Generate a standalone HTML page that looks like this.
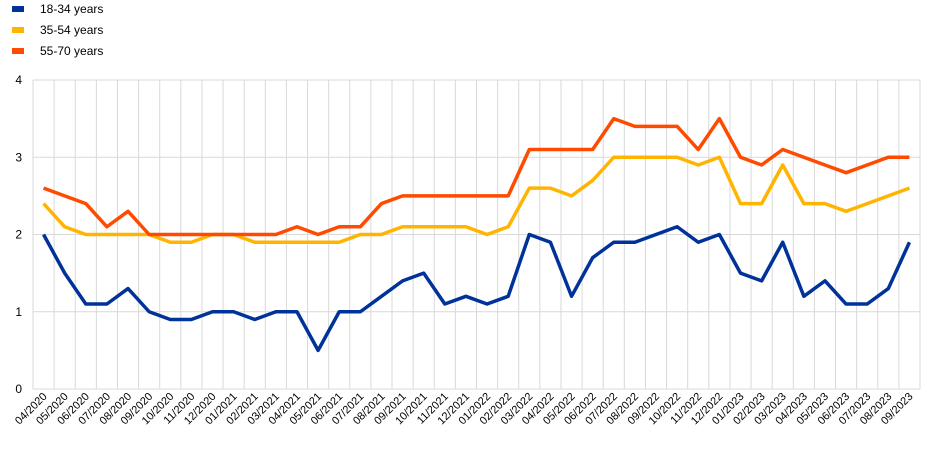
<!DOCTYPE html>
<html><head><meta charset="utf-8"><style>
body{margin:0;background:#fff;font-family:"Liberation Sans",Arial,sans-serif}
svg text{font-family:"Liberation Sans",Arial,sans-serif;fill:#000}
</style></head><body>
<svg width="945" height="445" id="c"></svg>
<script>
const categories=["04/2020","05/2020","06/2020","07/2020","08/2020","09/2020","10/2020","11/2020","12/2020","01/2021","02/2021","03/2021","04/2021","05/2021","06/2021","07/2021","08/2021","09/2021","10/2021","11/2021","12/2021","01/2022","02/2022","03/2022","04/2022","05/2022","06/2022","07/2022","08/2022","09/2022","10/2022","11/2022","12/2022","01/2023","02/2023","03/2023","04/2023","05/2023","06/2023","07/2023","08/2023","09/2023"];
const young=[2.0,1.5,1.1,1.1,1.3,1.0,0.9,0.9,1.0,1.0,0.9,1.0,1.0,0.5,1.0,1.0,1.2,1.4,1.5,1.1,1.2,1.1,1.2,2.0,1.9,1.2,1.7,1.9,1.9,2.0,2.1,1.9,2.0,1.5,1.4,1.9,1.2,1.4,1.1,1.1,1.3,1.9];
const middle=[2.4,2.1,2.0,2.0,2.0,2.0,1.9,1.9,2.0,2.0,1.9,1.9,1.9,1.9,1.9,2.0,2.0,2.1,2.1,2.1,2.1,2.0,2.1,2.6,2.6,2.5,2.7,3.0,3.0,3.0,3.0,2.9,3.0,2.4,2.4,2.9,2.4,2.4,2.3,2.4,2.5,2.6];
const older=[2.6,2.5,2.4,2.1,2.3,2.0,2.0,2.0,2.0,2.0,2.0,2.0,2.1,2.0,2.1,2.1,2.4,2.5,2.5,2.5,2.5,2.5,2.5,3.1,3.1,3.1,3.1,3.5,3.4,3.4,3.4,3.1,3.5,3.0,2.9,3.1,3.0,2.9,2.8,2.9,3.0,3.0];
const yTicks=[0,1,2,3,4];
const seriesNames=["18-34 years","35-54 years","55-70 years"];
const colors=["#003299","#FFB400","#FF4B00"];
const NS="http://www.w3.org/2000/svg";
const svg=document.getElementById('c');
const L=33,R=920,T=80,B=389;
const bw=(R-L)/categories.length;
const x=i=>L+bw*(i+0.5);
const y=v=>B-(v/4)*(B-T);
function mk(t,a,p){const e=document.createElementNS(NS,t);for(const k in a)e.setAttribute(k,a[k]);(p||svg).appendChild(e);return e;}
for(let i=0;i<=categories.length;i++){
  const g=mk('line',{x1:L+bw*i,x2:L+bw*i,y1:T,y2:B,stroke:'#d9d9d9','stroke-width':1});
  
  
}
yTicks.forEach(v=>{
  const g=mk('line',{x1:L,x2:R,y1:y(v),y2:y(v),stroke:'#d9d9d9','stroke-width':1});
  
  
  const t=mk('text',{x:22,y:y(v)+4,'text-anchor':'end','font-size':12});
  t.textContent=v;
  
  
});
categories.forEach((c,i)=>{
  const t=mk('text',{x:x(i)+4,y:B+8,'text-anchor':'end','font-size':11,transform:`rotate(-45 ${x(i)+4} ${B+8})`});
  t.textContent=c;
  
  
});
[young,middle,older].forEach((s,k)=>{
  const p=mk('polyline',{points:s.map((v,i)=>x(i)+','+y(v)).join(' '),fill:'none',stroke:colors[k],'stroke-width':3.5,'stroke-linejoin':'round'});
  
  
  const ly=9+k*21;
  const m=mk('rect',{x:12,y:ly-3,width:12,height:6,fill:colors[k]});
  
  
  const t=mk('text',{x:40,y:ly+4,'font-size':12});
  t.textContent=seriesNames[k];
  
  
});
</script>
</body></html>
